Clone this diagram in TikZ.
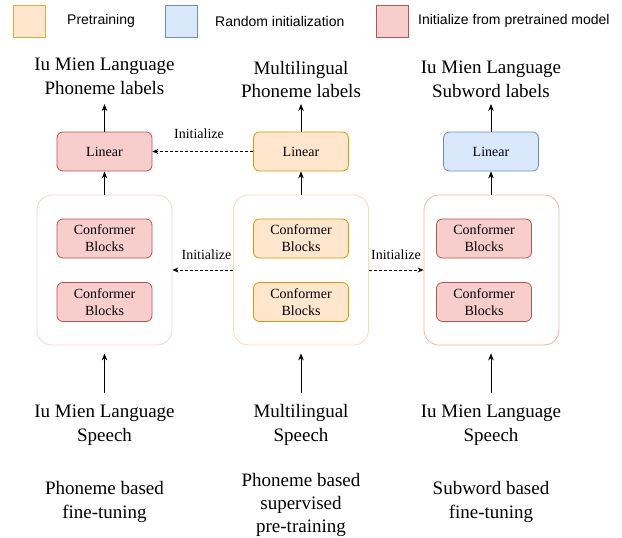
\documentclass[tikz,border=0pt]{standalone}
\usepackage{fontspec}
\setmainfont{Liberation Serif}
\newfontfamily\legendfont{Liberation Sans}
\usetikzlibrary{arrows.meta}
\definecolor{orF}{HTML}{FFE6CC}\definecolor{orD}{HTML}{D79B00}
\definecolor{blF}{HTML}{DAE8FC}\definecolor{blD}{HTML}{6C8EBF}
\definecolor{rdF}{HTML}{F8CECC}\definecolor{rdD}{HTML}{B85450}
\definecolor{cL}{HTML}{F9D2D2}\definecolor{cM}{HTML}{FFD9B0}\definecolor{cR}{HTML}{F0B0B0}
\tikzset{
  box/.style={rounded corners=6pt, minimum width=95pt, minimum height=39pt, inner sep=0pt, align=center, font=\fontsize{14}{17}\selectfont, line width=0.8pt},
  orbox/.style={box, fill=orF, draw=orD},
  blbox/.style={box, fill=blF, draw=blD},
  rdbox/.style={box, fill=rdF, draw=rdD},
  cont/.style={rounded corners=15pt, minimum width=135pt, minimum height=150pt, inner sep=0pt, line width=0.8pt, fill=white},
  lbl/.style={align=center, font=\fontsize{19}{23.5}\selectfont, inner sep=0pt},
  arr/.style={-{Stealth[length=7pt,width=5.5pt]}, line width=0.8pt},
  initarr/.style={dashed, dash pattern=on 3pt off 2pt, -{Stealth[length=6pt,width=5pt]}, line width=0.7pt},
  initlbl/.style={font=\fontsize{14}{16}\selectfont, inner sep=0pt},
  legbox/.style={minimum width=32pt, minimum height=32pt, inner sep=0pt, line width=0.8pt},
  legtxt/.style={anchor=west, inner sep=0pt, font=\legendfont\fontsize{14}{16}\selectfont}
}
\begin{document}
\begin{tikzpicture}[x=1pt,y=-1pt]
\useasboundingbox (0,0) rectangle (622,538);
% legend
\node[legbox, fill=orF, draw=orD!80] (lg1) at (29,21) {};
\node[legtxt] (lt1) at (67,21) {Pretraining};
\node[legbox, fill=blF, draw=blD] (lg2) at (181,21) {};
\node[legtxt] (lt2) at (215,21) {Random initialization};
\node[legbox, fill=rdF, draw=rdD] (lg3) at (392.5,21) {};
\node[legtxt] (lt3) at (418,21) {Initialize from pretrained model};

% containers
\node[cont, draw=cL] (cl) at (104.5,270) {};
\node[cont, draw=cM] (cm) at (301,270) {};
\node[cont, draw=cR] (cr) at (491.5,270) {};

% conformer blocks
\node[rdbox] (cl1) at (104.5,238.5) {Conformer\\Blocks};
\node[rdbox] (cl2) at (104.5,302) {Conformer\\Blocks};
\node[orbox] (cm1) at (301,238.5) {Conformer\\Blocks};
\node[orbox] (cm2) at (301,302) {Conformer\\Blocks};
\node[rdbox] (cr1) at (484,238.5) {Conformer\\Blocks};
\node[rdbox] (cr2) at (484,302) {Conformer\\Blocks};

% linear
\node[rdbox] (ll) at (104.5,151.5) {Linear};
\node[orbox] (lm) at (301,151.5) {Linear};
\node[blbox] (lr) at (491,151.5) {Linear};

% top labels
\node[lbl] (tl) at (104.5,76.5) {Iu Mien Language\\Phoneme labels};
\node[lbl] (tm) at (301,79.5) {Multilingual\\Phoneme labels};
\node[lbl] (tr) at (491,79.5) {Iu Mien Language\\Subword labels};
\coordinate (atl) at (104.5,104);
\coordinate (atm) at (301,104);
\coordinate (atr) at (491,104);

% bottom labels
\node[lbl] (bl) at (104.5,425) {Iu Mien Language\\Speech};
\node[lbl] (bm) at (301,425) {Multilingual\\Speech};
\node[lbl] (br) at (491,425) {Iu Mien Language\\Speech};
\coordinate (abl) at (104.5,393);
\coordinate (abm) at (301,393);
\coordinate (abr) at (491,393);

% footer labels
\node[lbl] (fl) at (104.5,502) {Phoneme based\\fine-tuning};
\node[lbl, font=\fontsize{19}{23}\selectfont] (fm) at (301,505) {Phoneme based\\supervised\\pre-training};
\node[lbl] (fr) at (491,502) {Subword based\\fine-tuning};

% arrows
\draw[arr] (ll.north) -- (atl);
\draw[arr] (lm.north) -- (atm);
\draw[arr] (lr.north) -- (atr);
\draw[arr] (cl.north) -- (ll.south);
\draw[arr] (cm.north) -- (lm.south);
\draw[arr] (cr.north -| lr.south) -- (lr.south);
\draw[arr, shorten >=8pt] (abl) -- (cl.south);
\draw[arr, shorten >=8pt] (abm) -- (cm.south);
\draw[arr, shorten >=8pt] (abr) -- (abr |- cr.south);

% initialize arrows
\draw[initarr] (lm.west) -- (ll.east);
\node[initlbl] (i1) at (199,134) {Initialize};
\draw[initarr] (cm.west) -- (cl.east);
\node[initlbl] (i2) at (206.5,254.5) {Initialize};
\draw[initarr] (cm.east) -- (cr.west);
\node[initlbl] (i3) at (396,254.5) {Initialize};
\end{tikzpicture}
\end{document}
